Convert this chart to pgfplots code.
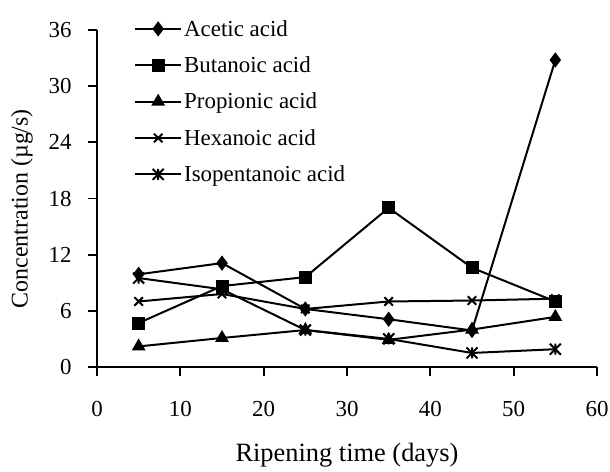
\documentclass[border=0pt]{standalone}
\usepackage{fontspec}
\setmainfont{Liberation Serif}
\usepackage{pgfplots}
\pgfplotsset{compat=1.18}
\pgfdeclareplotmark{xstar}{%
  \pgfpathmoveto{\pgfqpoint{-\pgfplotmarksize}{-\pgfplotmarksize}}%
  \pgfpathlineto{\pgfqpoint{\pgfplotmarksize}{\pgfplotmarksize}}%
  \pgfpathmoveto{\pgfqpoint{-\pgfplotmarksize}{\pgfplotmarksize}}%
  \pgfpathlineto{\pgfqpoint{\pgfplotmarksize}{-\pgfplotmarksize}}%
  \pgfpathmoveto{\pgfqpoint{0pt}{-\pgfplotmarksize}}%
  \pgfpathlineto{\pgfqpoint{0pt}{\pgfplotmarksize}}%
  \pgfusepathqstroke}
\begin{document}
\begin{tikzpicture}
\path[use as bounding box] (-97bp,-105bp) rectangle (513bp,367bp);
\begin{axis}[
  at={(0,0)}, anchor=south west,
  scale only axis, width=500bp, height=337bp,
  xmin=0, xmax=60, ymin=0, ymax=36,
  xtick={0,10,...,60}, ytick={0,6,...,36},
  axis x line=bottom, axis y line=left,
  axis line style={-, line width=1.8bp},
  tick style={line width=1.8bp, black},
  tick align=outside, major tick length=9bp,
  font=\fontsize{23}{23}\selectfont,
  /pgf/number format/assume math mode=true,
  xticklabel style={yshift=-22bp},
  yticklabel style={xshift=-13bp},
  xlabel={Ripening time (days)},
  ylabel={Concentration (µg/s)},
  x label style={at={(rel axis cs:0.5,0)}, anchor=center, yshift=-88bp, font=\fontsize{26.5}{26.5}\selectfont},
  y label style={at={(rel axis cs:0,0.47)}, anchor=center, yshift=75bp, font=\fontsize{24}{24}\selectfont},
  legend image code/.code={\draw[mark repeat=2, mark phase=2, #1] plot coordinates {(0bp,0bp) (23bp,0bp) (46bp,0bp)};},
  legend style={at={(rel axis cs:0,1)}, anchor=north west, xshift=34bp, yshift=14bp,
    draw=none, fill=none, font=\fontsize{23}{23}\selectfont, row sep=15bp,
    cells={anchor=west}, /tikz/every even column/.append style={column sep=2bp}},
  clip=false,
]
\addplot[black, line width=2bp, mark=diamond*, mark size=6bp, mark options={solid, fill=black}] coordinates {(5,9.9) (15,11.1) (25,6.2) (35,5.1) (45,3.9) (55,32.8)};
\addlegendentry{Acetic acid}
\addplot[black, line width=2bp, mark=square*, mark size=5.5bp, mark options={solid, fill=black}] coordinates {(5,4.7) (15,8.65) (25,9.6) (35,17.0) (45,10.6) (55,7.0)};
\addlegendentry{Butanoic acid}
\addplot[black, line width=2bp, mark=triangle*, mark size=6bp, mark options={solid, fill=black}] coordinates {(5,2.2) (15,3.1) (25,3.95) (35,2.9) (45,4.0) (55,5.35)};
\addlegendentry{Propionic acid}
\addplot[black, line width=2bp, mark=x, mark size=6bp, mark options={solid, line width=2bp}] coordinates {(5,7.0) (15,7.8) (25,6.2) (35,7.0) (45,7.1) (55,7.3)};
\addlegendentry{Hexanoic acid}
\addplot[black, line width=2bp, mark=xstar, mark size=5.5bp, mark options={solid, line width=2bp}] coordinates {(5,9.5) (15,8.3) (25,3.95) (35,3.0) (45,1.5) (55,1.9)};
\addlegendentry{Isopentanoic acid}
\end{axis}
\end{tikzpicture}
\end{document}
